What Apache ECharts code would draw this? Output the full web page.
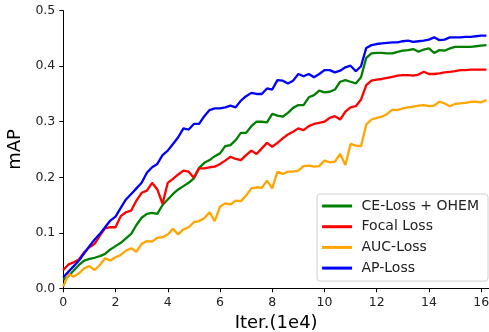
<!DOCTYPE html>
<html><head><meta charset="utf-8">
<script src="https://cdn.jsdelivr.net/npm/echarts@6/dist/echarts.min.js"></script>
<style>html,body{margin:0;padding:0;background:#fff}#c{width:489px;height:332px}</style>
</head><body><div id="c"></div>
<script>
// x positions (Iter., 1e4), step 0.2
const iters = [0,0.2,0.4,0.6,0.8,1.0,1.2,1.4,1.6,1.8,2.0,2.2,2.4,2.6,2.8,3.0,3.2,3.4,3.6,3.8,4.0,4.2,4.4,4.6,4.8,5.0,5.2,5.4,5.6,5.8,6.0,6.2,6.4,6.6,6.8,7.0,7.2,7.4,7.6,7.8,8.0,8.2,8.4,8.6,8.8,9.0,9.2,9.4,9.6,9.8,10.0,10.2,10.4,10.6,10.8,11.0,11.2,11.4,11.6,11.8,12.0,12.2,12.4,12.6,12.8,13.0,13.2,13.4,13.6,13.8,14.0,14.2,14.4,14.6,14.8,15.0,15.2,15.4,15.6,15.8,16.0,16.2];
const ceOhem = [0.015,0.022,0.032,0.042,0.050,0.053,0.055,0.058,0.062,0.070,0.076,0.082,0.090,0.098,0.114,0.127,0.134,0.136,0.134,0.150,0.160,0.170,0.178,0.184,0.190,0.198,0.217,0.226,0.231,0.238,0.243,0.256,0.258,0.267,0.280,0.280,0.292,0.300,0.300,0.299,0.314,0.311,0.309,0.316,0.325,0.330,0.330,0.344,0.348,0.356,0.353,0.354,0.358,0.372,0.375,0.372,0.369,0.380,0.415,0.423,0.424,0.424,0.423,0.423,0.426,0.428,0.429,0.431,0.426,0.430,0.432,0.424,0.429,0.428,0.432,0.435,0.435,0.435,0.435,0.436,0.437,0.438];
const focal = [0.033,0.043,0.047,0.052,0.065,0.074,0.080,0.095,0.108,0.110,0.110,0.130,0.137,0.140,0.158,0.172,0.176,0.190,0.178,0.152,0.190,0.197,0.205,0.212,0.210,0.199,0.216,0.216,0.218,0.219,0.224,0.230,0.237,0.233,0.231,0.240,0.248,0.242,0.252,0.262,0.255,0.262,0.270,0.277,0.282,0.288,0.285,0.292,0.296,0.298,0.300,0.307,0.310,0.304,0.318,0.326,0.328,0.340,0.366,0.374,0.376,0.377,0.379,0.381,0.383,0.384,0.384,0.383,0.385,0.390,0.386,0.386,0.387,0.389,0.390,0.391,0.393,0.393,0.394,0.394,0.394,0.394];
const auc = [0.003,0.026,0.021,0.027,0.036,0.040,0.033,0.042,0.054,0.050,0.056,0.060,0.068,0.072,0.066,0.080,0.085,0.084,0.091,0.092,0.097,0.107,0.097,0.106,0.110,0.119,0.121,0.126,0.137,0.121,0.147,0.153,0.151,0.158,0.157,0.167,0.180,0.182,0.181,0.194,0.180,0.210,0.206,0.210,0.210,0.212,0.220,0.221,0.219,0.220,0.230,0.227,0.228,0.242,0.222,0.260,0.257,0.256,0.295,0.304,0.307,0.309,0.314,0.322,0.321,0.324,0.326,0.327,0.329,0.330,0.328,0.329,0.336,0.333,0.328,0.332,0.333,0.334,0.336,0.336,0.335,0.339];
const ap = [0.020,0.030,0.040,0.050,0.063,0.076,0.088,0.098,0.110,0.122,0.129,0.145,0.160,0.170,0.180,0.190,0.208,0.218,0.224,0.240,0.248,0.260,0.272,0.288,0.286,0.296,0.296,0.310,0.321,0.324,0.324,0.326,0.329,0.326,0.338,0.346,0.352,0.350,0.350,0.360,0.358,0.375,0.374,0.369,0.374,0.386,0.382,0.386,0.380,0.386,0.393,0.393,0.389,0.392,0.398,0.401,0.391,0.400,0.433,0.438,0.440,0.441,0.442,0.443,0.443,0.445,0.446,0.444,0.445,0.446,0.448,0.452,0.447,0.448,0.452,0.452,0.452,0.453,0.453,0.454,0.455,0.455];
const seriesNames = ['CE-Loss + OHEM','Focal Loss','AUC-Loss','AP-Loss'];
const seriesColors = ['#008000','#ff0000','#ffa500','#0000ff'];
const seriesValues = [ceOhem, focal, auc, ap];
const xTicks = [0,2,4,6,8,10,12,14,16];
const yTicks = [0.0,0.1,0.2,0.3,0.4,0.5];

const font = 'DejaVu Sans';
const chart = echarts.init(document.getElementById('c'), null, {renderer:'canvas'});
chart.setOption({
  animation:false,
  backgroundColor:'#fff',
  grid:{left:63.3, right:0, top:10.7, bottom:43.7, containLabel:false, outerBoundsMode:'none'},
  xAxis:{type:'value', min:0, max:16.3, interval:2,
    name:'Iter.(1e4)', nameLocation:'middle', nameGap:21,
    nameTextStyle:{fontFamily:font, fontSize:18, color:'#000'},
    axisLine:{lineStyle:{color:'#000', width:1}},
    axisTick:{show:true, length:4, inside:false, lineStyle:{color:'#000'}},
    axisLabel:{fontFamily:font, fontSize:12.5, color:'#222', margin:8, showMaxLabel:false,
      formatter:v=> xTicks.includes(v) ? String(v) : ''},
    splitLine:{show:false}},
  yAxis:{type:'value', min:0, max:0.5, interval:0.1,
    name:'mAP', nameLocation:'middle', nameGap:27, nameRotate:90,
    nameTextStyle:{fontFamily:font, fontSize:18, color:'#000'},
    axisLine:{show:true, lineStyle:{color:'#000', width:1}},
    axisTick:{show:true, length:4, lineStyle:{color:'#000'}},
    axisLabel:{fontFamily:font, fontSize:12.5, color:'#222', margin:8,
      formatter:v=> yTicks.some(t=>Math.abs(t-v)<1e-9) ? v.toFixed(1) : ''},
    splitLine:{show:false}},
  legend:{orient:'vertical', right:1, top:194, data:seriesNames,
    icon:'rect', itemWidth:30, itemHeight:3, itemGap:4.7,
    padding:[4,9,5,5],
    formatter: n => ' ' + n,
    backgroundColor:'#fff', borderColor:'#d0d0d0', borderWidth:1, borderRadius:3,
    textStyle:{fontFamily:font, fontSize:14, color:'#222', lineHeight:16}},
  series: seriesNames.map((n,i)=>({
    name:n, type:'line', showSymbol:false, symbol:'none',
    data: iters.map((x,j)=>[x, seriesValues[i][j]]),
    lineStyle:{color:seriesColors[i], width:2.3},
    itemStyle:{color:seriesColors[i]}, z: 2+i
  }))
});
</script></body></html>
